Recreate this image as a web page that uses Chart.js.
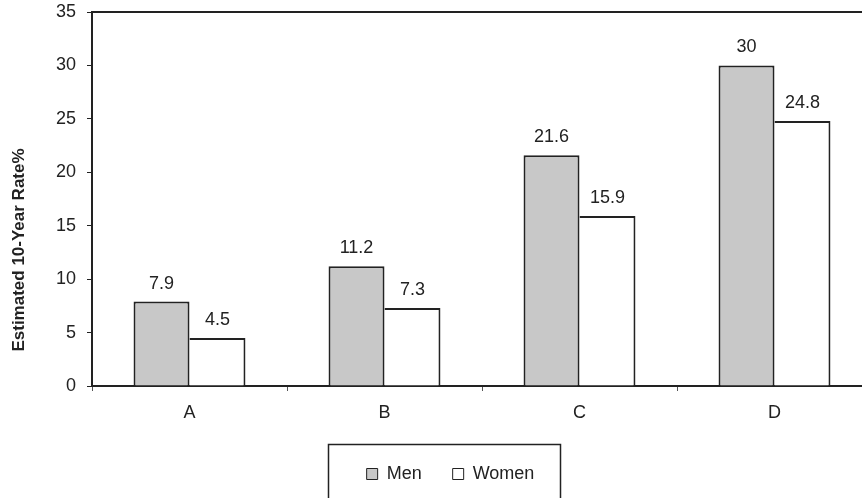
<!DOCTYPE html>
<html>
<head>
<meta charset="utf-8">
<script src="https://cdn.jsdelivr.net/npm/chart.js@4/dist/chart.umd.min.js"></script>
<style>
  html, body { margin: 0; padding: 0; background: #fff; overflow: hidden; }
  #wrap { width: 880px; height: 498px; }
</style>
</head>
<body>
<div id="wrap"><canvas id="c" width="880" height="498"></canvas></div>
<script>
const categories = ['A', 'B', 'C', 'D'];
const menValues = [7.9, 11.2, 21.6, 30];
const womenValues = [4.5, 7.3, 15.9, 24.8];
const seriesNames = ['Men', 'Women'];
const yTitle = 'Estimated 10-Year Rate%';
const yTicks = [0, 5, 10, 15, 20, 25, 30, 35];

const INK = '#222222';
const FONT = "'Liberation Sans', Arial, sans-serif";

const valueLabels = {
  id: 'valueLabels',
  afterDatasetsDraw(chart) {
    const ctx = chart.ctx;
    ctx.save();
    ctx.font = '18px ' + FONT;
    ctx.fillStyle = INK;
    ctx.textAlign = 'center';
    ctx.textBaseline = 'middle';
    chart.data.datasets.forEach((ds, di) => {
      const meta = chart.getDatasetMeta(di);
      meta.data.forEach((bar, i) => {
        ctx.fillText(String(ds.data[i]), bar.x, bar.y - 18);
      });
    });
    ctx.restore();
  }
};

const frame = {
  id: 'frame',
  afterDraw(chart) {
    const ctx = chart.ctx;
    const a = chart.chartArea;
    ctx.save();
    ctx.strokeStyle = INK;
    ctx.lineWidth = 2;
    ctx.beginPath();
    ctx.moveTo(a.left - 1, a.top);
    ctx.lineTo(a.right, a.top);
    ctx.stroke();
    ctx.lineWidth = 1.5;
    ctx.strokeRect(328.5, 444.5, 232, 80);
    ctx.fillStyle = INK;
    ctx.font = 'bold 17px ' + FONT;
    ctx.textAlign = 'center';
    ctx.textBaseline = 'middle';
    ctx.translate(19, 250);
    ctx.rotate(-Math.PI / 2);
    ctx.fillText(yTitle, 0, 0);
    ctx.restore();
  }
};

new Chart(document.getElementById('c'), {
  type: 'bar',
  data: {
    labels: categories,
    datasets: [
      {
        label: seriesNames[0],
        data: menValues,
        backgroundColor: '#c8c8c8',
        borderColor: INK,
        borderWidth: { top: 2, left: 2, right: 2, bottom: 0 },
        borderSkipped: false,
        categoryPercentage: 0.574,
        barPercentage: 1.0
      },
      {
        label: seriesNames[1],
        data: womenValues,
        backgroundColor: '#ffffff',
        borderColor: INK,
        borderWidth: { top: 2, left: 0, right: 2, bottom: 0 },
        borderSkipped: false,
        categoryPercentage: 0.574,
        barPercentage: 1.0
      }
    ]
  },
  options: {
    responsive: false,
    animation: false,
    devicePixelRatio: 1,
    layout: { padding: { left: 29, right: 8, top: 12, bottom: 5 } },
    plugins: {
      tooltip: { enabled: false },
      legend: {
        position: 'bottom',
        labels: {
          color: INK,
          font: { family: FONT, size: 18 },
          boxWidth: 11,
          boxHeight: 11,
          padding: 31,
          generateLabels(chart) {
            const items = Chart.defaults.plugins.legend.labels.generateLabels(chart);
            items.forEach(it => { it.lineWidth = 1; it.strokeStyle = INK; });
            return items;
          }
        }
      }
    },
    scales: {
      x: {
        offset: true,
        grid: {
          offset: true,
          drawOnChartArea: false,
          drawTicks: true,
          tickLength: 5,
          color: '#555555'
        },
        border: { display: true, color: INK, width: 2 },
        ticks: { color: INK, font: { family: FONT, size: 18 }, padding: 11 },
        afterFit(scale) { scale.height = 48; scale.paddingLeft = 0; scale.paddingRight = 0; }
      },
      y: {
        min: 0,
        max: 35,
        afterBuildTicks(scale) { scale.ticks = yTicks.map(v => ({ value: v })); },
        grid: {
          drawOnChartArea: false,
          drawTicks: true,
          tickLength: 5,
          color: INK
        },
        border: { display: true, color: INK, width: 2 },
        ticks: { color: INK, font: { family: FONT, size: 18 }, padding: 11 },
        afterFit(scale) { scale.width = 63; scale.paddingTop = 0; scale.paddingBottom = 0; }
      }
    }
  },
  plugins: [valueLabels, frame]
});
</script>
</body>
</html>
